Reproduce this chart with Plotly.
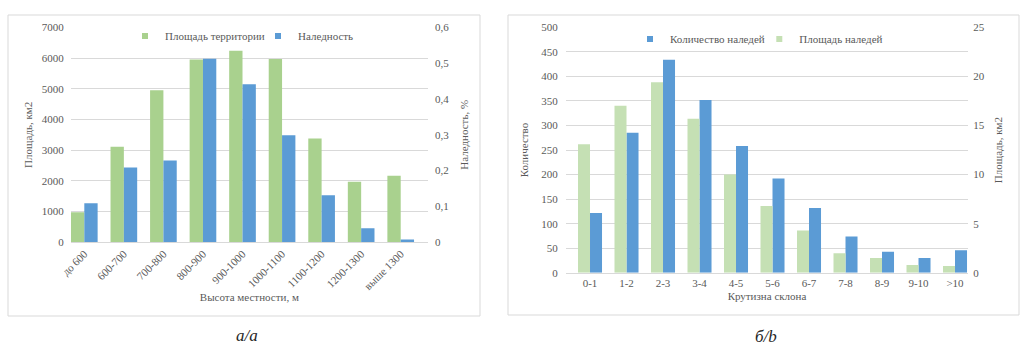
import plotly.graph_objects as go

# ---------------- data ----------------
elev_cats = ["до 600", "600-700", "700-800", "800-900", "900-1000",
             "1000-1100", "1100-1200", "1200-1300", "выше 1300"]
territory_area = [980, 3110, 4950, 5950, 6240, 5970, 3380, 1970, 2170]      # км2
naled_share = [0.109, 0.209, 0.228, 0.512, 0.441, 0.299, 0.131, 0.039, 0.008]  # %

slope_cats = ["0-1", "1-2", "2-3", "3-4", "4-5", "5-6", "6-7",
              "7-8", "8-9", "9-10", ">10"]
naled_count = [122, 285, 434, 352, 258, 192, 132, 74, 43, 30, 46]
naled_area = [13.1, 17.0, 19.4, 15.7, 10.0, 6.8, 4.3, 2.0, 1.5, 0.8, 0.7]   # км2

# ---------------- style ----------------
W, H = 1023, 345
def px(p):
    return p / W
def py(p):
    return 1 - p / H

GREEN_A = "#A9D18E"
GREEN_B = "#C5E0B4"
BLUE = "#5B9BD5"
FONT = "Liberation Serif, 'Times New Roman', serif"
GREY = "#595959"
GRID = "#D9D9D9"
tick_font = dict(family=FONT, size=11, color=GREY)

fig = go.Figure()

# ---- chart a ----
BW_A = 0.337
fig.add_trace(go.Bar(x=elev_cats, y=territory_area, xaxis="x", yaxis="y",
                     marker=dict(color=GREEN_A, line=dict(width=0)),
                     width=BW_A, offset=-BW_A, name="Площадь территории",
                     legendgroup="a1", showlegend=False))
fig.add_trace(go.Bar(x=elev_cats, y=naled_share, xaxis="x", yaxis="y2",
                     marker=dict(color=BLUE, line=dict(width=0)),
                     width=BW_A, offset=0, name="Наледность",
                     legendgroup="a2", showlegend=False))

# ---- chart b ----
BW_B = 0.329
fig.add_trace(go.Bar(x=slope_cats, y=naled_area, xaxis="x2", yaxis="y4",
                     marker=dict(color=GREEN_B, line=dict(width=0)),
                     width=BW_B, offset=-BW_B, name="Площадь наледей",
                     legendgroup="b2", showlegend=False))
fig.add_trace(go.Bar(x=slope_cats, y=naled_count, xaxis="x2", yaxis="y3",
                     marker=dict(color=BLUE, line=dict(width=0)),
                     width=BW_B, offset=0, name="Количество наледей",
                     legendgroup="b1", showlegend=False))

# legend entries (small square markers like the original)
def legend_entry(name, color, legend, group, xa, ya):
    fig.add_trace(go.Scatter(x=[None], y=[None], mode="markers", xaxis=xa, yaxis=ya,
                             marker=dict(symbol="square", size=6, color=color),
                             name=name, legend=legend, legendgroup=group,
                             showlegend=True, hoverinfo="skip"))

legend_entry("Площадь территории", GREEN_A, "legend", "a1", "x", "y")
legend_entry("Наледность", BLUE, "legend2", "a2", "x", "y")
legend_entry("Количество наледей", BLUE, "legend3", "b1", "x2", "y3")
legend_entry("Площадь наледей", GREEN_B, "legend4", "b2", "x2", "y3")

def leg(xp, yp):
    return dict(x=px(xp), y=py(yp), xanchor="left", yanchor="middle",
                orientation="h", bgcolor="rgba(0,0,0,0)", borderwidth=0,
                font=dict(family=FONT, size=11, color=GREY), itemwidth=30)

# plot-area geometry (pixels)
A_L, A_R, A_T, A_B = 70.7, 428.0, 27.3, 242.3
B_L, B_R, B_T, B_B = 565.7, 968.3, 27.3, 272.8

common_y = dict(showgrid=True, gridcolor=GRID, gridwidth=1, zeroline=False,
                showline=False, ticks="", tickfont=tick_font, automargin=False,
                title_font=dict(family=FONT, size=11, color=GREY))
common_y2 = dict(showgrid=False, zeroline=False, showline=False, ticks="",
                 tickfont=tick_font, automargin=False,
                 title_font=dict(family=FONT, size=11, color=GREY))
common_x = dict(type="category", showgrid=False, zeroline=False, showline=True,
                linecolor=GRID, linewidth=1, ticks="", tickfont=tick_font,
                automargin=False, title_font=dict(family=FONT, size=11, color=GREY))

fig.update_layout(
    width=W, height=H, autosize=False,
    margin=dict(l=0, r=0, t=0, b=0),
    paper_bgcolor="white", plot_bgcolor="white",
    separators=", ",
    barmode="overlay",
    showlegend=True,
    font=dict(family=FONT, size=11, color=GREY),
    xaxis=dict(common_x, domain=[px(A_L), px(A_R)], anchor="y",
               range=[-0.344, 8.69], tickangle=-45,
               title=dict(text="Высота местности, м", standoff=2)),
    yaxis=dict(common_y, domain=[py(A_B), py(A_T)], anchor="x",
               range=[0, 7000], dtick=1000, ticklabelstandoff=6,
               title=dict(text="Площадь, км2", standoff=6)),
    yaxis2=dict(common_y2, overlaying="y", side="right", anchor="x",
                range=[0, 0.6], dtick=0.1, ticklabelstandoff=6,
                title=dict(text="Наледность, %", standoff=12)),
    xaxis2=dict(common_x, domain=[px(B_L), px(B_R)], anchor="y3",
                range=[-0.666, 10.364], tickangle=0,
                title=dict(text="Крутизна склона", standoff=4)),
    yaxis3=dict(common_y, domain=[py(B_B), py(B_T)], anchor="x2",
                range=[0, 500], dtick=50, ticklabelstandoff=7,
                title=dict(text="Количество", standoff=10)),
    yaxis4=dict(common_y2, overlaying="y3", side="right", anchor="x2",
                range=[0, 25], dtick=5, ticklabelstandoff=4,
                title=dict(text="Площадь, км2", standoff=10)),
    legend=leg(125.0, 36),
    legend2=leg(258.0, 36),
    legend3=leg(630.0, 39),
    legend4=leg(759.3, 39),
    shapes=[
        dict(type="rect", xref="paper", yref="paper",
             x0=px(8), x1=px(480), y0=py(316), y1=py(15),
             line=dict(color=GRID, width=1), fillcolor="rgba(0,0,0,0)", layer="below"),
        dict(type="rect", xref="paper", yref="paper",
             x0=px(508), x1=px(1019), y0=py(315), y1=py(15),
             line=dict(color=GRID, width=1), fillcolor="rgba(0,0,0,0)", layer="below"),
    ],
    annotations=[
        dict(text="<i>а/а</i>", xref="paper", yref="paper", x=px(247), y=py(335),
             xanchor="center", yanchor="middle", showarrow=False,
             font=dict(family=FONT, size=17, color="#262626")),
        dict(text="<i>б/b</i>", xref="paper", yref="paper", x=px(766), y=py(336),
             xanchor="center", yanchor="middle", showarrow=False,
             font=dict(family=FONT, size=17, color="#262626")),
    ],
)

fig.write_html("out.html")
